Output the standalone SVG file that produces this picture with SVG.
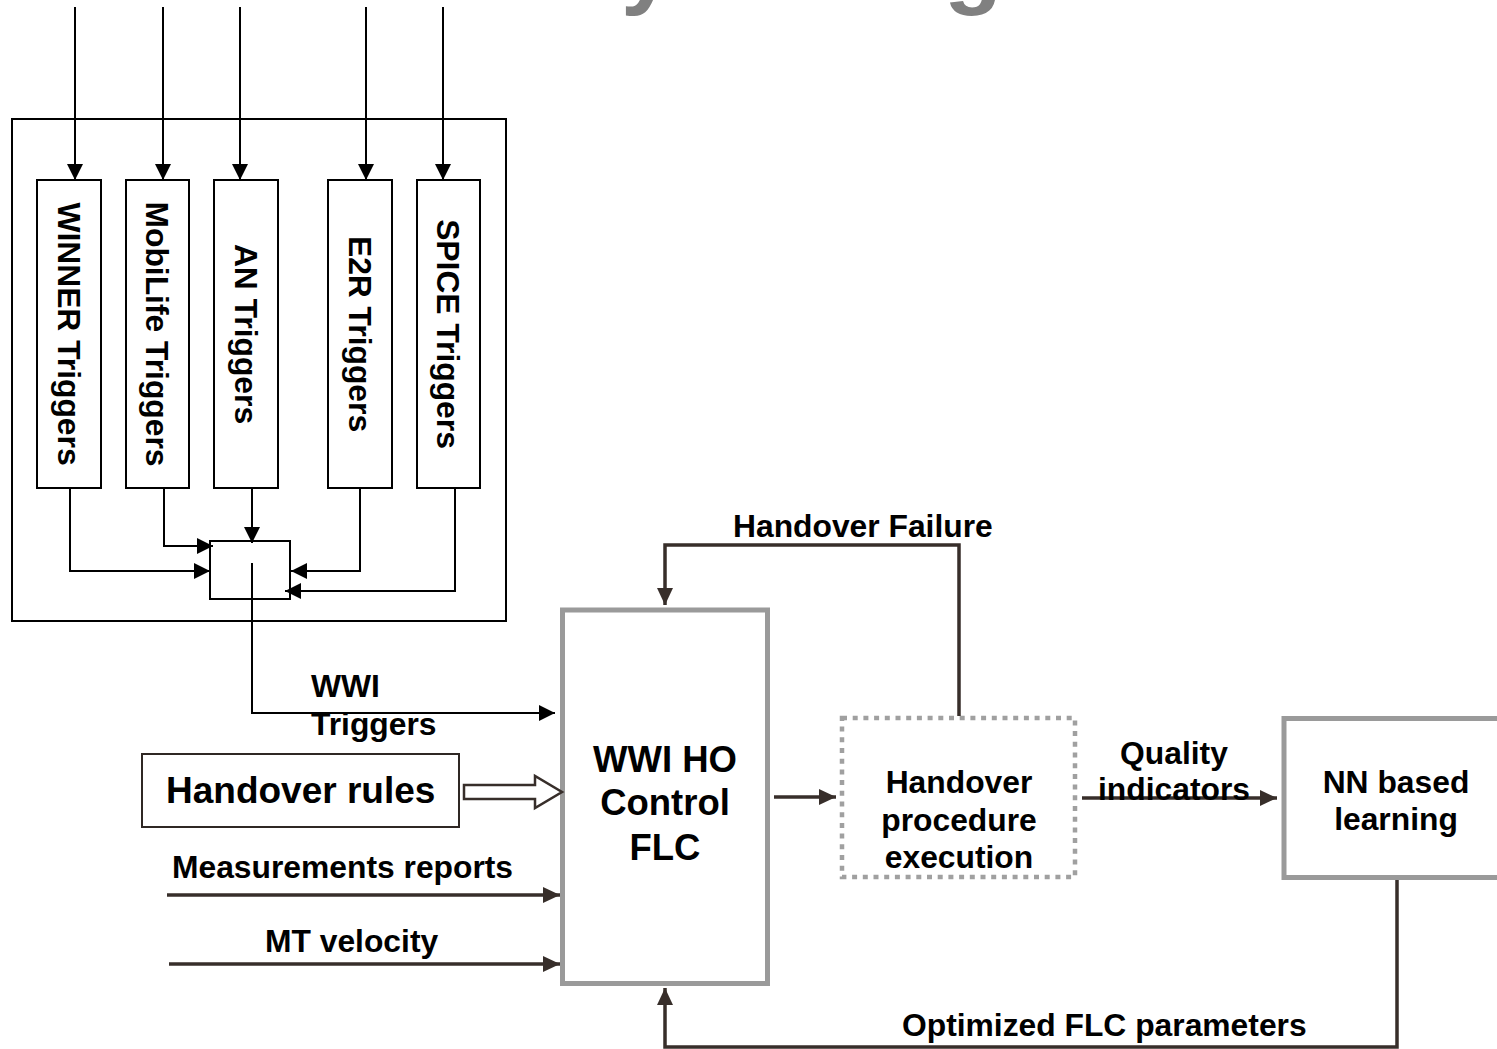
<svg xmlns="http://www.w3.org/2000/svg" width="1497" height="1049" viewBox="0 0 1497 1049">
<style>
text{font-family:"Liberation Sans",Arial,sans-serif;font-weight:bold;fill:#000}
.t{font-size:31.8px}
.big{font-size:36.5px}
.vt{font-size:31.8px}
.blk{fill:none;stroke:#000;stroke-width:2}
.br{fill:none;stroke:#372e2a;stroke-width:3.5}
.gbox{fill:#fff;stroke:#9a9a9a;stroke-width:5}
</style>
<defs>
<marker id="ab" markerUnits="userSpaceOnUse" markerWidth="16" markerHeight="16" refX="16" refY="8" orient="auto"><path d="M0,0 L16,8 L0,16 z" fill="#000"/></marker>
<marker id="ad" markerUnits="userSpaceOnUse" markerWidth="17" markerHeight="16" refX="17" refY="8" orient="auto"><path d="M0,0 L17,8 L0,16 z" fill="#372e2a"/></marker>
</defs>

<g id="title">
<text x="621" y="-4" style="font-size:95px;fill:#808080">y</text>
<text x="944" y="-4" style="font-size:95px;fill:#808080">g</text>
</g>

<g id="trigger-frame"><rect x="12" y="119" width="494" height="502" class="blk"/></g>
<g id="winner"><rect x="37" y="180" width="64" height="308" class="blk" fill="#fff"/><text class="vt" transform="translate(57.5,334) rotate(90)" text-anchor="middle">WINNER Triggers</text></g>
<g id="mobilife"><rect x="126" y="180" width="63" height="308" class="blk"/><text class="vt" transform="translate(146,334) rotate(90)" text-anchor="middle">MobiLife Triggers</text></g>
<g id="an"><rect x="214" y="180" width="64" height="308" class="blk"/><text class="vt" transform="translate(234.5,334) rotate(90)" text-anchor="middle">AN Triggers</text></g>
<g id="e2r"><rect x="328" y="180" width="64" height="308" class="blk"/><text class="vt" transform="translate(348.5,334) rotate(90)" text-anchor="middle">E2R Triggers</text></g>
<g id="spice"><rect x="417" y="180" width="63" height="308" class="blk"/><text class="vt" transform="translate(437,334) rotate(90)" text-anchor="middle">SPICE Triggers</text></g>
<g id="combiner"><rect x="210" y="541" width="80" height="58" class="blk"/></g>

<g id="handover-rules"><rect x="142" y="754" width="317" height="73" fill="#fff" stroke="#2f2824" stroke-width="2"/><text x="166" y="803" style="font-size:37px">Handover rules</text></g>
<g id="flc"><rect x="562.5" y="610" width="205" height="373.5" class="gbox"/>
<text class="big" x="665" y="772" text-anchor="middle">WWI HO</text>
<text class="big" x="665" y="815" text-anchor="middle">Control</text>
<text class="big" x="665" y="860" text-anchor="middle">FLC</text></g>
<g id="ho-exec"><rect x="842" y="718" width="233" height="159" fill="#fff" stroke="#a0a0a0" stroke-width="4.5" stroke-dasharray="5 5.7"/>
<text class="t" x="959" y="793" text-anchor="middle">Handover</text>
<text class="t" x="959" y="831" text-anchor="middle">procedure</text>
<text class="t" x="959" y="868" text-anchor="middle">execution</text></g>
<g id="nn"><rect x="1284" y="718.5" width="260" height="159" class="gbox"/>
<text class="t" x="1396" y="793" text-anchor="middle">NN based</text>
<text class="t" x="1396" y="830" text-anchor="middle">learning</text></g>

<g id="connectors">
<path class="blk" d="M75,7 V180" marker-end="url(#ab)"/>
<path class="blk" d="M163,7 V180" marker-end="url(#ab)"/>
<path class="blk" d="M240,7 V180" marker-end="url(#ab)"/>
<path class="blk" d="M366,7 V180" marker-end="url(#ab)"/>
<path class="blk" d="M443,7 V180" marker-end="url(#ab)"/>
<path class="blk" d="M70,488 V571 H210" marker-end="url(#ab)"/>
<path class="blk" d="M164,488 V546 H213" marker-end="url(#ab)"/>
<path class="blk" d="M252,488 V543" marker-end="url(#ab)"/>
<path class="blk" d="M360,488 V571 H291" marker-end="url(#ab)"/>
<path class="blk" d="M455,488 V591 H285" marker-end="url(#ab)"/>
<path class="blk" d="M252,563 V713 H555" marker-end="url(#ab)"/>
<polygon points="464,785 535,785 535,776 562,792 535,808 535,799 464,799" fill="#fff" stroke="#372e2a" stroke-width="2.5"/>
<path class="br" d="M959,716 V545 H665 V605" marker-end="url(#ad)"/>
<path class="br" d="M774,797 H836" marker-end="url(#ad)"/>
<path class="br" d="M1082,798 H1277" marker-end="url(#ad)"/>
<path class="br" d="M1397,880 V1047 H665 V988" marker-end="url(#ad)"/>
<path class="br" d="M167,895 H560" marker-end="url(#ad)"/>
<path class="br" d="M169,964 H560" marker-end="url(#ad)"/>
</g>

<g id="labels">
<text class="t" x="311" y="697">WWI</text>
<text class="t" x="311" y="735">Triggers</text>
<text class="t" x="733" y="537">Handover Failure</text>
<text class="t" x="1174" y="764" text-anchor="middle">Quality</text>
<text class="t" x="1174" y="800" text-anchor="middle">indicators</text>
<text class="t" x="172" y="878">Measurements reports</text>
<text class="t" x="265" y="952">MT velocity</text>
<text class="t" x="902" y="1036">Optimized FLC parameters</text>
</g>
</svg>
